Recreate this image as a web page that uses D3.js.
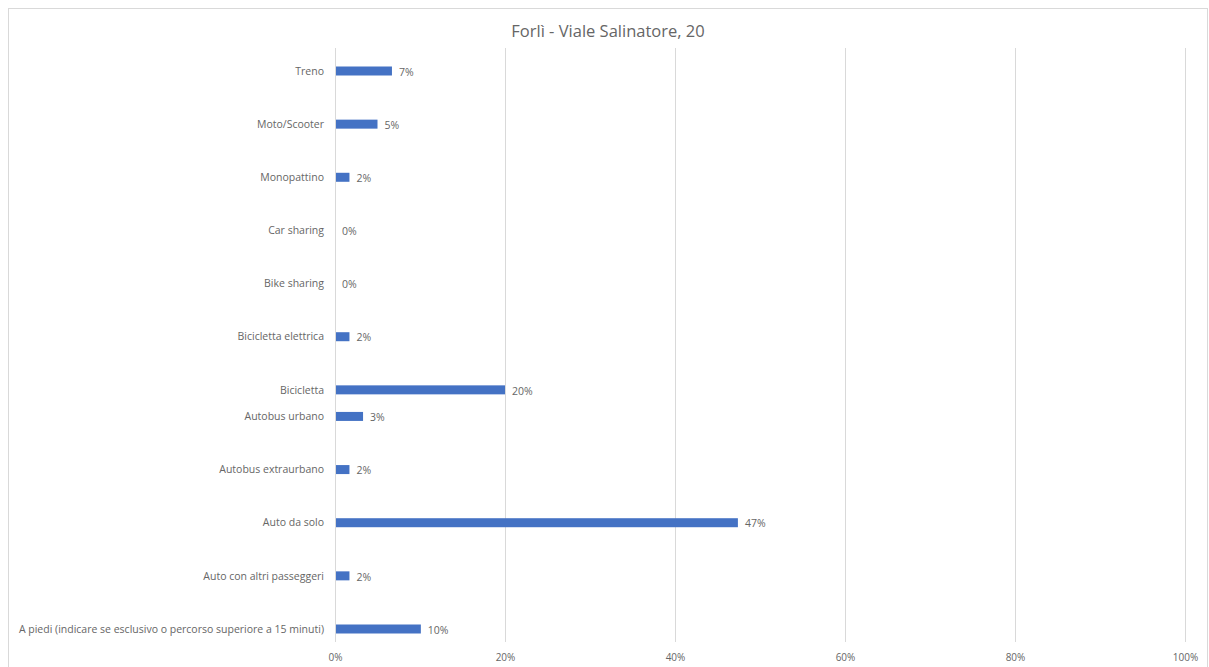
<!DOCTYPE html>
<html><head><meta charset="utf-8">
<script src="https://cdn.jsdelivr.net/npm/d3@7"></script>
<style>body{margin:0;background:#fff}svg{display:block}text{font-family:"Open Sans","Liberation Sans",sans-serif}</style>
</head><body><svg id="c" width="1209" height="667"></svg>
<script>
const categories = ["Treno","Moto/Scooter","Monopattino","Car sharing","Bike sharing","Bicicletta elettrica","Bicicletta","Autobus urbano","Autobus extraurbano","Auto da solo","Auto con altri passeggeri","A piedi (indicare se esclusivo o percorso superiore a 15 minuti)"];
const slots = [0,1,2,3,4,5,6,6.5,7.5,8.5,9.5,10.5];
const values = [6.7,5.0,1.7,0,0,1.7,20.0,3.3,1.7,47.4,1.7,10.1];
const valueLabels = ["7%","5%","2%","0%","0%","2%","20%","3%","2%","47%","2%","10%"];
const xTicks = [0,20,40,60,80,100];
const title = "Forlì - Viale Salinatore, 20";

const svg = d3.select("#c");
svg.append("rect").attr("x",8.5).attr("y",8.5).attr("width",1199).attr("height",670).attr("fill","#fff").attr("stroke","#d9d9d9");
const x = d3.scaleLinear().domain([0,100]).range([335,1185]);
const y = d3.scaleLinear().domain([0,10.5]).range([71,629]);

svg.append("text").attr("x",608).attr("y",31).attr("dy","0.35em").attr("text-anchor","middle").attr("font-size",16.5).attr("fill","#666").text(title);

const ax = svg.append("g").attr("transform","translate(0,652)")
  .call(d3.axisBottom(x).tickValues(xTicks).tickFormat(d=>d+"%").tickSize(0).tickPadding(2));
ax.select(".domain").remove();
ax.selectAll("text").attr("font-size",10).attr("fill","#666").attr("font-family","Open Sans, sans-serif");

svg.append("g").selectAll("line").data(xTicks).join("line")
  .attr("x1",d=>x(d)+0.5).attr("x2",d=>x(d)+0.5).attr("y1",48).attr("y2",642)
  .attr("stroke","#d9d9d9").attr("stroke-width",1);

const data = categories.map((c,i)=>({c,s:slots[i],v:values[i],l:valueLabels[i]}));
svg.append("g").selectAll("rect").data(data).join("rect")
  .attr("x",x(0)+1).attr("y",d=>y(d.s)-4.5).attr("width",d=>Math.max(0,x(d.v)-x(0)-1)).attr("height",9).attr("fill","#4472c4");

svg.append("g").selectAll("text").data(data).join("text")
  .attr("x",d=>x(d.v)+7).attr("y",d=>y(d.s)+1).attr("dy","0.35em")
  .attr("font-size",10.5).attr("fill","#666").text(d=>d.l);

svg.append("g").selectAll("text").data(data).join("text")
  .attr("x",324).attr("y",d=>y(d.s)).attr("dy","0.35em").attr("text-anchor","end")
  .attr("font-size",10.5).attr("fill","#666").text(d=>d.c);
</script></body></html>
